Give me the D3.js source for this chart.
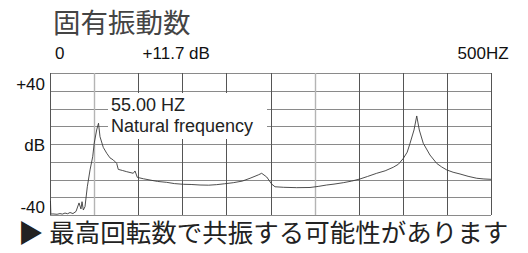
<!DOCTYPE html>
<html>
<head>
<meta charset="utf-8">
<script src="https://cdn.jsdelivr.net/npm/d3@7"></script>
<style>
  body { margin: 0; background: #fff; }
</style>
</head>
<body>
<svg id="chart"></svg>
<script>
// spectrum trace
var freqHz = [0.5, 1, 3.4, 8, 11.3, 14, 17, 20, 22.7, 26, 29.5, 32.9, 35.1, 36.3, 37.8, 39.7,
  42.3, 45.4, 48.4, 50.2, 52.9, 55, 56.7, 60.4, 64.3, 68, 71.8, 75.6, 77.4, 82, 87, 94.4, 96.4, 99,
  106, 113.4, 122, 132.3, 141, 151.1, 160, 170.1, 180, 189, 198, 207.8, 218, 226.8, 236.2, 240,
  245.7, 251.4, 255.1, 265, 279.7, 294.8, 304, 313.7, 322, 332.5, 342, 351.5, 360, 370.4, 380,
  389.2, 395, 400.6, 405, 408.2, 412.7, 415.8, 418.7, 423.2, 430.8, 438.4, 444, 449.8, 457, 464.9,
  474, 483.8, 492, 500];
var levelDb = [-32, -39.5, -39.4, -39.6, -39.2, -39.5, -38.9, -39.3, -38.6, -39.2, -38, -33.2, -36.6, -32.5, -37.2, -35.3,
  -24.1, -14.6, -7.2, 0.6, 7.9, 11.7, 4.1, -1.9, -5.2, -7.8, -9, -10.9, -14.3, -14.9, -15.6, -16.5, -15.2, -18.8,
  -19.6, -20.3, -21.1, -21.6, -22.3, -22.7, -22.8, -23.1, -23.2, -22.9, -22.4, -21.8, -20.9, -19.3, -17.4, -16.5,
  -18.6, -22.6, -24.1, -24.4, -24.6, -24.5, -23.9, -23.1, -22.6, -21.8, -20.9, -19.7, -18.3, -16.5, -15.1,
  -13.1, -11.4, -8.1, -4.6, 0.4, 7.9, 15.8, 7.9, 0.4, -6.2, -10.9, -12.9, -14.6, -15.9, -16.9,
  -18.2, -19.3, -19.7, -19.9];

var xGridHz = d3.range(0, 501, 50);
var yGridDb = d3.range(-40, 41, 10);
var lightLines = [50, 300];

var title = "固有振動数";
var note = "▶ 最高回転数で共振する可能性があります";
var topLabels = [{ hz: 0, text: "0", anchor: "start" }, { hz: 105, text: "+11.7 dB", anchor: "start" }, { hz: 520, text: "500HZ", anchor: "end" }];
var leftLabels = [{ db: 40, text: "+40" }, { db: 0, text: "dB" }, { db: -40, text: "-40" }];
var peakLines = ["55.00 HZ", "Natural frequency"];

var width = 528, height = 253;
var margins = { left: 50, right: 37, top: 73, bottom: 38 };

var svg = d3.select("#chart")
  .attr("width", width)
  .attr("height", height);

var xScale = d3.scaleLinear()
  .domain([0, 500])
  .range([margins.left, width - margins.right]);

var yScale = d3.scaleLinear()
  .domain([-40, 40])
  .range([height - margins.bottom, margins.top]);

var grid = svg.append("g");

grid.selectAll(".hline")
  .data(yGridDb)
  .enter()
  .append("line")
  .attr("x1", xScale(0))
  .attr("x2", xScale(500))
  .attr("y1", d => Math.round(yScale(d)) + 0.5)
  .attr("y2", d => Math.round(yScale(d)) + 0.5)
  .style("stroke", "#8a8a8a")
  .style("stroke-width", 1);

grid.selectAll(".vline")
  .data(xGridHz)
  .enter()
  .append("line")
  .attr("x1", d => Math.round(xScale(d)) + 0.5)
  .attr("x2", d => Math.round(xScale(d)) + 0.5)
  .attr("y1", yScale(40))
  .attr("y2", yScale(-40))
  .style("stroke", d => lightLines.indexOf(d) >= 0 ? "#b4b4b4" : "#555")
  .style("stroke-width", d => lightLines.indexOf(d) >= 0 ? 1.4 : 1);

// white box behind the peak label
var box = svg.append("g");
box.append("rect")
  .attr("x", 108)
  .attr("y", 93)
  .attr("width", 159)
  .attr("height", 46)
  .style("fill", "#fff");

box.selectAll("text")
  .data(peakLines)
  .enter()
  .append("text")
  .attr("x", 111)
  .attr("y", (d, i) => 111 + i * 21)
  .style("font-family", "'Liberation Sans', Arial, sans-serif")
  .style("font-size", "18px")
  .style("fill", "#222")
  .text(d => d);

var line = d3.line()
  .x((d, i) => xScale(freqHz[i]))
  .y(d => yScale(d));

svg.append("path")
  .datum(levelDb)
  .attr("d", line)
  .style("fill", "none")
  .style("stroke", "#3a3a3a")
  .style("stroke-width", 0.9);

svg.selectAll(".toplabel")
  .data(topLabels)
  .enter()
  .append("text")
  .attr("x", d => xScale(d.hz) + (d.hz === 0 ? 5 : 0))
  .attr("y", 59)
  .attr("text-anchor", d => d.anchor)
  .style("font-family", "'Liberation Sans', Arial, sans-serif")
  .style("font-size", "17px")
  .style("fill", "#111")
  .text(d => d.text);

svg.selectAll(".leftlabel")
  .data(leftLabels)
  .enter()
  .append("text")
  .attr("x", 45)
  .attr("y", d => d.db === 40 ? yScale(d.db) + 17 : d.db === 0 ? yScale(d.db) + 7 : yScale(d.db) - 2)
  .attr("text-anchor", "end")
  .style("font-family", "'Liberation Sans', Arial, sans-serif")
  .style("font-size", "17px")
  .style("fill", "#111")
  .text(d => d.text);

svg.append("text")
  .attr("x", 53)
  .attr("y", 33)
  .style("font-family", "'Noto Sans CJK JP', sans-serif")
  .style("font-size", "27.5px")
  .style("fill", "#444")
  .text(title);

svg.append("text")
  .attr("x", 18)
  .attr("y", 242)
  .style("font-family", "'Noto Sans CJK JP', sans-serif")
  .style("font-size", "25.5px")
  .style("fill", "#222")
  .text(note);
</script>
</body>
</html>
